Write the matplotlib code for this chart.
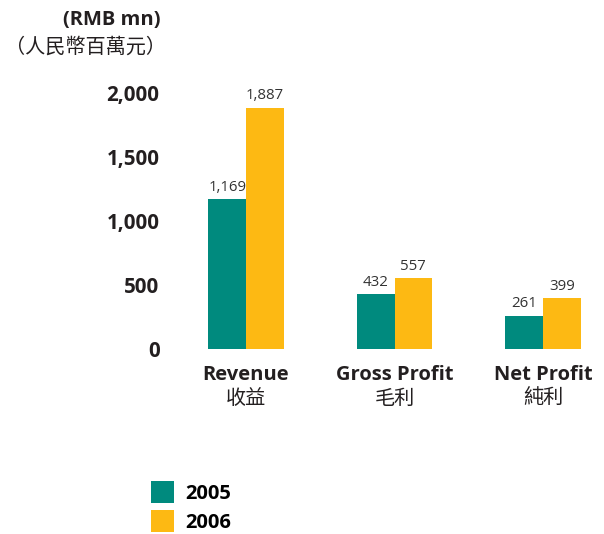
import matplotlib.pyplot as plt
import numpy as np

categories = ["Revenue", "Gross Profit", "Net Profit"]
categories_zh = ["收益", "毛利", "純利"]
years = ["2005", "2006"]
values_2005 = [1169, 432, 261]
values_2006 = [1887, 557, 399]
y_ticks = [0, 500, 1000, 1500, 2000]
y_labels = ["0", "500", "1,000", "1,500", "2,000"]

teal = "#008A7E"
orange = "#FDB913"
text_color = "#231F20"
fonts = ["Open Sans", "Noto Sans CJK TC", "DejaVu Sans"]
zh_fonts = ["Noto Sans CJK TC", "DejaVu Sans"]

plt.rcParams['font.family'] = fonts

W, H = 604, 534
fig = plt.figure(figsize=(W / 100, H / 100), dpi=100)

# axes placed in pixel terms: x from 170 to 600, y value 0 at px 349
ax = fig.add_axes([170 / W, (H - 349) / H, 430 / W, 259 / H])

x = np.arange(len(categories))
width = 0.253
b1 = ax.bar(x - width / 2, values_2005, width, color=teal, label=years[0])
b2 = ax.bar(x + width / 2, values_2006, width, color=orange, label=years[1])

for bars in (b1, b2):
    for rect in bars:
        v = rect.get_height()
        ax.annotate(f"{v:,}", (rect.get_x() + rect.get_width() / 2, v),
                    xytext=(0, 3), textcoords="offset points",
                    ha="center", va="bottom", fontsize=10.8, color="#333333")

ax.set_xlim((170 - 246) / 148.5, (600 - 246) / 148.5)
ax.set_ylim(0, 2025)
ax.set_yticks(y_ticks)
ax.set_yticklabels(y_labels, fontsize=14.8, fontweight="bold", color=text_color)
ax.tick_params(axis="y", length=0, pad=7.5)
ax.set_xticks([])
for s in ax.spines.values():
    s.set_visible(False)

for i in range(len(categories)):
    ax.text(x[i], -0.1, categories[i], transform=ax.get_xaxis_transform(),
            ha="center", va="center", fontsize=14.5, fontweight="bold",
            color=text_color)
    ax.text(x[i], -0.19, categories_zh[i], transform=ax.get_xaxis_transform(),
            ha="center", va="center", fontsize=14.5, family=zh_fonts,
            color=text_color)

fig.text(161 / W, 1 - 20 / H, "(RMB mn)", ha="right", va="center",
         fontsize=14.5, fontweight="bold", color=text_color)
fig.text(166 / W, 1 - 47 / H, "（人民幣百萬元）", ha="right", va="center",
         fontsize=14.5, family=zh_fonts, color=text_color)

fig.legend(handles=[b1, b2], loc="upper left",
           bbox_to_anchor=(143 / W, 1 - 473 / H), frameon=False,
           prop={"size": 14.5, "weight": "bold"}, handlelength=1.14,
           handleheight=1.3, handletextpad=0.55, labelspacing=0.3,
           borderaxespad=0)

fig.savefig("out.png", dpi=100)
